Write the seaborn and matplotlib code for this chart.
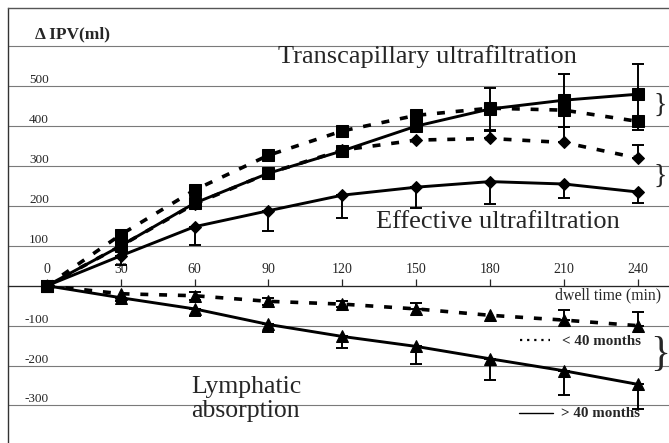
"""Delta IPV over the dwell: transcapillary UF, effective UF, lymphatic absorption."""

import matplotlib

matplotlib.use("Agg")
import matplotlib.pyplot as plt
import pandas as pd
import seaborn as sns

TIME = [0, 30, 60, 90, 120, 150, 180, 210, 240]

# > 40 months (solid) and < 40 months (dotted)
TCUF_LONG = [0, 100, 207, 282, 338, 400, 443, 465, 480]
TCUF_SHORT = [0, 128, 240, 327, 388, 427, 445, 440, 412]
EUF_LONG = [0, 75, 148, 188, 227, 247, 261, 255, 235]
EUF_SHORT = [0, 100, 205, 282, 340, 365, 369, 359, 320]
LYMPH_LONG = [0, -30, -58, -97, -127, -152, -183, -213, -247]
LYMPH_SHORT = [0, -20, -25, -39, -46, -58, -74, -86, -100]

# whiskers as (down, up)
TCUF_LONG_ERR = ([0, 0, 0, 0, 0, 0, 52, 66, 75], [0, 0, 0, 0, 0, 0, 52, 66, 75])
TCUF_SHORT_ERR = ([0, 0, 0, 0, 0, 0, 0, 0, 22], [0] * 9)
EUF_LONG_ERR = ([0, 23, 46, 52, 57, 52, 56, 36, 27], [0] * 9)
EUF_SHORT_ERR = ([0] * 9, [0, 0, 0, 0, 0, 0, 20, 38, 32])
LYMPH_LONG_ERR = ([0, 8, 17, 20, 29, 43, 53, 61, 63], [0] * 9)
LYMPH_SHORT_ERR = ([0, 0, 10, 8, 8, 0, 0, 0, 0], [0, 0, 10, 8, 8, 15, 0, 26, 34])

YTICKS = [-300, -200, -100, 0, 100, 200, 300, 400, 500, 600]
YLABELS = ["-300", "-200", "-100", "", "100", "200", "300", "400", "500", ""]

SERIF = ["Liberation Serif", "DejaVu Serif"]
DOTTED = (0, (2.2, 3.0))


def whiskers(ax, y, err):
    down, up = err
    pts = [(t, v, d, u) for t, v, d, u in zip(TIME, y, down, up) if d or u]
    if not pts:
        return
    t, v, d, u = zip(*pts)
    ax.errorbar(t, v, yerr=[d, u], fmt="none", ecolor="black",
                elinewidth=1.4, capsize=4.5, capthick=1.4, zorder=3)


def main() -> None:
    sns.set_style("white")
    plt.rcParams["font.family"] = SERIF

    df = pd.DataFrame({
        "time": TIME,
        "tcuf_long": TCUF_LONG, "tcuf_short": TCUF_SHORT,
        "euf_long": EUF_LONG, "euf_short": EUF_SHORT,
        "lymph_long": LYMPH_LONG, "lymph_short": LYMPH_SHORT,
    })

    fig = plt.figure(figsize=(6.69, 4.43), dpi=100)
    ax = fig.add_axes([8 / 669, 0, 661 / 669, 435 / 443])

    series = [
        ("tcuf_long", TCUF_LONG_ERR, "s", 9, "-", 2.1),
        ("tcuf_short", TCUF_SHORT_ERR, "s", 9, DOTTED, 2.6),
        ("euf_long", EUF_LONG_ERR, "D", 6.5, "-", 2.1),
        ("euf_short", EUF_SHORT_ERR, "D", 6.5, DOTTED, 2.6),
        ("lymph_long", LYMPH_LONG_ERR, "^", 8.5, "-", 2.1),
        ("lymph_short", LYMPH_SHORT_ERR, "^", 8.5, DOTTED, 2.6),
    ]
    for col, err, marker, ms, ls, lw in series:
        sns.lineplot(data=df, x="time", y=col, ax=ax, color="black",
                     marker=marker, markersize=ms, markeredgecolor="black",
                     linestyle=ls, linewidth=lw, zorder=4)
        whiskers(ax, df[col], err)

    ax.set_xlim(-15.8, 252.7)
    ax.set_ylim(-394, 696)
    ax.set_xlabel("")
    ax.set_ylabel("")

    # grid lines with labels sitting on top of them
    ax.set_yticks(YTICKS, YLABELS)
    ax.grid(axis="y", color="#7a7a7a", linewidth=0.8)
    ax.tick_params(axis="y", length=0, pad=-29.5, labelsize=9.5)
    plt.setp(ax.get_yticklabels(), va="bottom")

    # x axis runs along zero, ticks and labels above it
    ax.set_xticks(TIME)
    ax.xaxis.tick_top()
    ax.spines["top"].set_position(("data", 0))
    ax.spines["top"].set_linewidth(0.9)
    ax.spines["bottom"].set_visible(False)
    ax.spines["right"].set_visible(False)
    ax.spines["left"].set_linewidth(1.0)
    ax.spines["left"].set_color("#333333")
    ax.tick_params(axis="x", direction="out", length=5, width=0.9, pad=2,
                   labelsize=10)
    fig.add_artist(plt.Line2D([8 / 669, 1], [435 / 443, 435 / 443],
                              color="#555555", linewidth=1.0,
                              transform=fig.transFigure))

    ax.text(-4.8, 629, "\u0394 IPV(ml)", fontsize=12.5, fontweight="bold",
            va="center", ha="left")
    ax.text(93.9, 574, "Transcapillary ultrafiltration", fontsize=19,
            va="center", ha="left")
    ax.text(133.7, 160, "Effective ultrafiltration", fontsize=19,
            va="center", ha="left")
    ax.text(58.6, -283, "Lymphatic\nabsorption", fontsize=18.5,
            va="center", ha="left", linespacing=1.1)
    ax.text(206.4, -24, "dwell time (min)", fontsize=11.3, va="center",
            ha="left")

    ax.plot([192, 204.4], [-137, -137], color="black", linewidth=1.6,
            linestyle=(0, (1, 2.2)))
    ax.text(209.3, -139, "< 40 months", fontsize=10.8, fontweight="bold",
            va="center", ha="left")
    ax.plot([191.8, 205.6], [-318, -318], color="black", linewidth=1.0)
    ax.text(208.9, -320, "> 40 months", fontsize=10.8, fontweight="bold",
            va="center", ha="left")

    for y, size in [(453, 20), (275, 20), (-172, 30)]:
        ax.text(249, y, "}", fontsize=size, va="center", ha="center")

    fig.savefig("out.png", dpi=100)
    plt.close(fig)


if __name__ == "__main__":
    main()
